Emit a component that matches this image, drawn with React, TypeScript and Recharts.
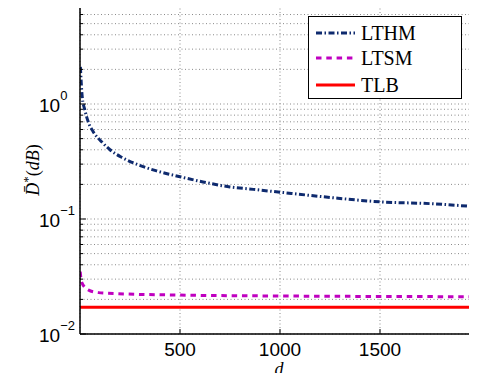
import React from "react";
import {
  LineChart,
  Line,
  XAxis,
  YAxis,
  CartesianGrid,
  Legend,
  ReferenceLine,
} from "recharts";

// values
const lthmD = [2, 11, 24, 41, 66, 108, 150, 208, 317, 383, 500, 615, 750, 867, 1000, 1250, 1500, 1750, 2000];
const lthmV = [2.1, 1.16, 0.89, 0.7, 0.574, 0.47, 0.4, 0.344, 0.285, 0.262, 0.233, 0.21, 0.19, 0.181, 0.171, 0.154, 0.141, 0.136, 0.127];
const ltsmD = [1, 8, 41, 92, 190, 500, 1000, 1500, 2000];
const ltsmV = [0.0348, 0.0283, 0.0242, 0.0229, 0.0224, 0.0218, 0.0214, 0.0212, 0.0211];
const tlbD = [0, 2000];
const tlbV = [0.0171, 0.0171];

const xTicks = [500, 1000, 1500];
const yTicks = [
  0.01, 0.02, 0.03, 0.04, 0.05, 0.06, 0.07, 0.08, 0.09,
  0.1, 0.2, 0.3, 0.4, 0.5, 0.6, 0.7, 0.8, 0.9,
  1, 2, 3, 4, 5, 6, 7,
];
const yMajor = [0.01, 0.1, 1];
const yMajorExp = ["\u22122", "\u22121", "0"];

const lthmData = lthmD.map((d, i) => ({ d, v: lthmV[i] }));
const ltsmData = ltsmD.map((d, i) => ({ d, v: ltsmV[i] }));
const tlbData = tlbD.map((d, i) => ({ d, v: tlbV[i] }));

// the reference figure is cut off just before d = 2000
const X_RIGHT = 1985;
const Y_TOP = 7.26;
const PLOT_LEFT = 80;
const PLOT_BOTTOM = 334;

const series = [
  { name: "LTHM", color: "#0e2a6e", dash: "6 2.5 1.5 2.5" },
  { name: "LTSM", color: "#c000c0", dash: "5.5 4.8" },
  { name: "TLB", color: "#ff0000", dash: undefined as string | undefined },
];

const YTick = (props: any) => {
  const { y, payload } = props;
  const idx = yMajor.indexOf(payload.value);
  const major = idx >= 0;
  return (
    <g>
      <line x1={PLOT_LEFT} x2={PLOT_LEFT + (major ? 6 : 3)} y1={y} y2={y} stroke="#000" />
      {major && (
        <text x={39} y={y + 8} fontFamily="'Liberation Sans', Arial, sans-serif" fontSize={19} fill="#000">
          10
          <tspan dy={-12} fontSize={13}>
            {yMajorExp[idx]}
          </tspan>
        </text>
      )}
    </g>
  );
};

const XTick = (props: any) => {
  const { x, payload } = props;
  return (
    <g>
      <line x1={x} x2={x} y1={PLOT_BOTTOM} y2={PLOT_BOTTOM - 5} stroke="#000" />
      <text
        x={x}
        y={356}
        textAnchor="middle"
        fontFamily="'Liberation Sans', Arial, sans-serif"
        fontSize={19}
        fill="#000"
      >
        {payload.value}
      </text>
    </g>
  );
};

const LegendBox = () => {
  const rows = [16, 41, 68];
  return (
    <div
      style={{
        width: 154,
        height: 83,
        border: "1.5px solid #000",
        boxSizing: "border-box",
        background: "#fff",
        position: "relative",
        fontFamily: "'Liberation Serif', 'DejaVu Serif', serif",
        fontSize: 20,
        color: "#000",
      }}
    >
      {series.map((s, i) => (
        <div
          key={s.name}
          style={{
            position: "absolute",
            left: 0,
            top: rows[i] - 12,
            height: 24,
            display: "flex",
            alignItems: "center",
          }}
        >
          <svg width={50} height={24}>
            <line
              x1={7}
              x2={46}
              y1={12}
              y2={12}
              stroke={s.color}
              strokeWidth={3}
              strokeDasharray={s.dash}
            />
          </svg>
          <span style={{ marginLeft: 2, lineHeight: "24px" }}>{s.name}</span>
        </div>
      ))}
    </div>
  );
};

const YLabel = () => (
  <text
    x={39}
    y={170}
    transform="rotate(-90, 39, 170)"
    textAnchor="middle"
    fontFamily="'Liberation Serif', 'DejaVu Serif', serif"
    fontSize={18}
    fill="#000"
  >
    <tspan fontStyle="italic">{"D\u0304"}</tspan>
    <tspan dy={-7} fontSize={13}>*</tspan>
    <tspan dy={7}>(</tspan>
    <tspan fontStyle="italic">dB</tspan>
    <tspan>)</tspan>
  </text>
);

const XLabel = () => (
  <text
    x={279}
    y={375}
    textAnchor="middle"
    fontFamily="'Liberation Serif', 'DejaVu Serif', serif"
    fontStyle="italic"
    fontSize={18}
    fill="#000"
  >
    d
  </text>
);

export default function App() {
  return (
    <div
      style={{
        margin: -8,
        width: 477,
        height: 381,
        overflow: "hidden",
        background: "#fff",
        position: "relative",
      }}
    >
      <LineChart width={477} height={381} margin={{ top: 5, right: 0, bottom: 0, left: 0 }}>
        <CartesianGrid strokeDasharray="1 2.5" stroke="#8a8a8a" strokeWidth={1} />
        <XAxis
          dataKey="d"
          type="number"
          domain={[0, X_RIGHT]}
          ticks={xTicks}
          interval={0}
          allowDataOverflow
          height={47}
          tickLine={false}
          axisLine={{ stroke: "#000", strokeWidth: 1.5 }}
          tick={<XTick />}
          label={{ content: () => <XLabel /> }}
        />
        <YAxis
          type="number"
          scale="log"
          domain={[0.01, Y_TOP]}
          ticks={yTicks}
          interval={0}
          allowDataOverflow
          width={80}
          tickLine={false}
          axisLine={{ stroke: "#000", strokeWidth: 1.5 }}
          tick={<YTick />}
          label={{ content: () => <YLabel /> }}
        />
        <ReferenceLine y={Y_TOP} stroke="#000" strokeWidth={1.5} />
        <Line
          data={lthmData}
          dataKey="v"
          type="monotone"
          stroke={series[0].color}
          strokeWidth={3}
          strokeDasharray={series[0].dash}
          dot={false}
          isAnimationActive={false}
        />
        <Line
          data={ltsmData}
          dataKey="v"
          type="monotone"
          stroke={series[1].color}
          strokeWidth={3}
          strokeDasharray={series[1].dash}
          dot={false}
          isAnimationActive={false}
        />
        <Line
          data={tlbData}
          dataKey="v"
          type="linear"
          stroke={series[2].color}
          strokeWidth={3}
          dot={false}
          isAnimationActive={false}
        />
        <Legend
          layout="vertical"
          align="center"
          verticalAlign="middle"
          content={() => <LegendBox />}
          wrapperStyle={{ position: "absolute", left: 308, top: 16, width: 154, height: 83 }}
        />
      </LineChart>
    </div>
  );
}
